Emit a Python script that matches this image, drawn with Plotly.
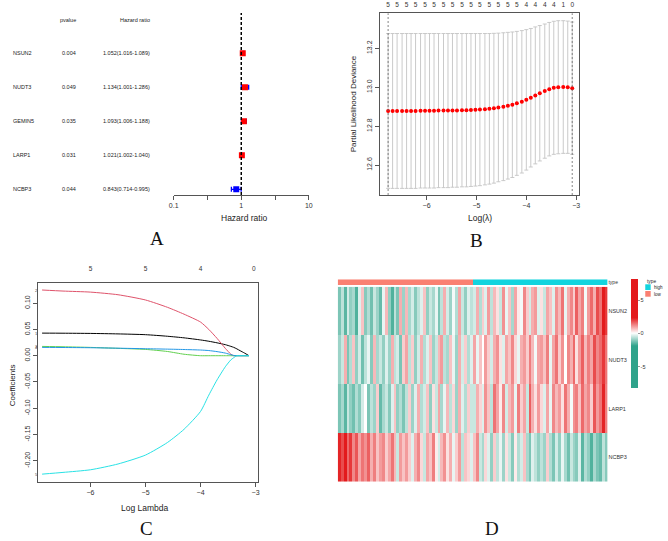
import plotly.graph_objects as go

W, H = 668, 541
def fx(p): return p / W
def fy(p): return 1 - p / H

FONT = "Liberation Sans, Arial, sans-serif"
SERIF = "Liberation Serif, Times New Roman, serif"

# ---------------- Panel A: forest plot ----------------
genes_a = ["NSUN2", "NUDT3", "GEMIN5", "LARP1", "NCBP3"]
pvalues = ["0.004", "0.049", "0.035", "0.031", "0.044"]
hr = [1.052, 1.134, 1.093, 1.021, 0.843]
hr_low = [1.016, 1.001, 1.006, 1.002, 0.714]
hr_high = [1.089, 1.286, 1.188, 1.040, 0.995]
row_pos = [5, 4, 3, 2, 1]
hr_ticks = [0.1, 0.316, 1, 3.16, 10]
hr_ticktext = ["0.1", "", "1", "", "10"]

# ---------------- Panel B: cross-validation ----------------
cv_loglam = [-6.77, -6.68, -6.59, -6.49, -6.40, -6.31, -6.22, -6.12, -6.03, -5.94,
             -5.85, -5.76, -5.66, -5.57, -5.48, -5.39, -5.29, -5.20, -5.11, -5.02,
             -4.93, -4.83, -4.74, -4.65, -4.56, -4.46, -4.37, -4.28, -4.19, -4.09,
             -4.00, -3.91, -3.82, -3.73, -3.63, -3.54, -3.45, -3.36, -3.26, -3.17, -3.08]
cv_mean = [12.878, 12.878, 12.878, 12.878, 12.878, 12.878, 12.878, 12.879, 12.879, 12.879,
           12.879, 12.880, 12.880, 12.880, 12.881, 12.881, 12.882, 12.882, 12.883, 12.884,
           12.885, 12.887, 12.889, 12.892, 12.896, 12.900, 12.905, 12.910, 12.917, 12.925,
           12.935, 12.946, 12.958, 12.969, 12.980, 12.990, 12.997, 13.000, 13.001, 13.000, 12.995]
cv_sd = [0.398, 0.398, 0.398, 0.398, 0.398, 0.398, 0.398, 0.397, 0.397, 0.397,
         0.397, 0.396, 0.396, 0.396, 0.395, 0.395, 0.394, 0.394, 0.393, 0.392,
         0.391, 0.389, 0.387, 0.385, 0.382, 0.380, 0.377, 0.374, 0.370, 0.366,
         0.361, 0.356, 0.352, 0.348, 0.345, 0.343, 0.342, 0.342, 0.341, 0.340, 0.340]
cv_nz = [5, 5, 5, 5, 5, 5, 5, 5, 5, 5, 5, 5, 5, 5, 5, 5, 5, 5, 5, 5,
         5, 5, 5, 5, 5, 5, 5, 5, 5, 4, 4, 4, 4, 4, 4, 4, 4, 2, 1, 1, 0]
lambda_min = -6.77
lambda_1se = -3.08

# ---------------- Panel C: coefficient paths ----------------
path_loglam = [-6.88, -6.50, -6.00, -5.50, -5.00, -4.60, -4.30, -4.00, -3.85,
               -3.70, -3.55, -3.45, -3.40, -3.34, -3.28, -3.20, -3.12]
coef_1 = [0.0430, 0.0428, 0.0424, 0.0415, 0.0400, 0.0370, 0.0340, 0.0300, 0.0275,
          0.0245, 0.0210, 0.0178, 0.0160, 0.0130, 0.0095, 0.0050, 0.0000]
coef_2 = [0.125, 0.123, 0.121, 0.116, 0.106, 0.092, 0.079, 0.064, 0.050,
          0.033, 0.014, 0.003, 0.000, 0.000, 0.000, 0.000, 0.000]
coef_3 = [0.0177, 0.0170, 0.0158, 0.0140, 0.0120, 0.0080, 0.0028, 0.0000, 0.0000,
          0.0000, 0.0000, 0.0000, 0.0000, 0.0000, 0.0000, 0.0000, 0.0000]
coef_4 = [0.0158, 0.0156, 0.0152, 0.0143, 0.0133, 0.0125, 0.0118, 0.0108, 0.0098,
          0.0078, 0.0050, 0.0020, 0.0006, 0.0000, 0.0000, 0.0000, 0.0000]
coef_5 = [-0.2253, -0.2220, -0.2170, -0.2060, -0.1890, -0.1650, -0.1400, -0.1060, -0.0750,
          -0.0460, -0.0210, -0.0080, -0.0040, 0.0000, 0.0000, 0.0000, 0.0000]
coef_labels = ["1", "2", "3", "4", "5"]
coef_colors = ["#000000", "#DF536B", "#61D04F", "#2297E6", "#28E2E5"]
df_ticks = [-6, -5, -4, -3.03]
df_labels = ["5", "5", "4", "0"]

# ---------------- Panel D: heatmap ----------------
heat_genes = ["NSUN2", "NUDT3", "LARP1", "NCBP3"]
sample_type = ["low"] * 46 + ["high"] * 46
expr_nsun2 = [-1.2, -0.6, -1.5, -0.4, -1.0, -0.8, -1.6, -0.3, 0.6, -1.1, -0.7, -1.3, -0.5, -0.9, -1.4, -0.2, 0.7, -1.0, -1.6, -0.6, -1.2, 0.8, -0.9,
              0.7, -0.8, -0.4, -1.1, -0.6, -0.3, 0.6, -1.0, -0.5, -0.8, -0.2, -1.2, -0.6, 0.8, -0.4, -0.9, -0.1, -0.7, 0.9, -0.5, -1.0, -0.3, -0.6,
              -0.4, 0.8, -0.7, 0.5, -0.3, 1.0, -0.6, 0.7, 0.3, -0.5, 1.1, -0.2, 0.6, -0.8, 0.9, 0.2, -0.1, 1.2, 0.5, -0.4, 0.8, 1.0, -0.3,
              0.3, -0.5, 0.9, 0.6, -0.3, 1.1, 0.7, 1.4, -0.2, 0.8, 1.2, 0.5, 1.6, 0.9, 1.3, -0.1, 1.0, 1.5, 0.8, 1.8, 1.4, 2.5, 2.0]
expr_nudt3 = [-0.9, -0.5, 0.8, -1.2, -0.7, 0.6, -1.0, -0.4, -1.3, -0.6, -0.2, -1.1, 0.7, -0.8, -0.5, -1.0, -0.3, -0.9, 0.8, -0.6, -0.4, -1.2, 0.5,
              0.9, -0.6, 0.5, -1.0, -0.4, 0.8, -0.7, -0.3, 0.6, -0.9, -0.5, 0.7, 1.0, -0.6, -0.8, 0.6, -0.2, -0.9, 0.8, -0.4, 0.5, -0.7, -0.3,
              0.9, -0.2, 0.6, 0.0, 1.0, 0.5, -0.4, 0.8, 1.1, 0.3, -0.3, 0.9, 0.6, 1.2, 0.4, -0.2, 0.8, 1.0, 0.5, 1.3, 0.7, -0.1, 0.9,
              1.0, 0.6, 1.3, -0.2, 0.9, 1.4, 0.5, 1.1, 0.0, 1.2, 0.8, 1.5, 0.3, 1.0, 1.6, 0.7, 1.3, 0.9, 1.8, 1.2, 1.5, 2.0, 1.4]
expr_larp1 = [-1.2, -0.8, -1.5, -0.5, -1.0, -1.3, -0.7, -1.1, -0.4, 0.0, -1.2, -0.6, -0.9, 0.5, -1.4, -0.8, -0.5, -1.1, -0.3, 0.6, -1.0, -0.7, -1.2,
              -0.6, 0.5, -0.9, -0.3, 0.8, -0.7, -0.4, 0.6, -1.0, 0.3, -0.5, 0.9, -0.8, -0.2, 0.7, -0.6, 0.4, -0.9, 0.8, -0.3, -0.7, 0.5, -0.5,
              -0.5, 0.8, 0.4, -0.3, 1.1, 0.6, -0.6, 1.4, 0.9, 0.2, 1.2, -0.4, 0.7, 1.0, -0.2, 1.3, 0.5, 0.9, -0.5, 1.6, 0.8, 0.3, 1.0,
              0.4, -0.3, 0.9, -0.2, 1.2, 0.7, 1.0, 0.3, 1.4, 0.8, -0.1, 1.1, 1.3, 0.6, 1.5, 0.9, 1.2, 0.5, 1.7, 1.0, 1.4, 2.2, 1.3]
expr_ncbp3 = [2.2, 1.8, 2.5, 1.5, 2.0, 1.2, 1.7, 0.9, 1.4, 1.1, 1.6, 0.8, 1.3, 0.6, 1.0, 1.2, 0.5, 0.9, 1.4, 0.7, -0.5, 1.0, 0.6,
              1.0, 0.5, -0.3, 0.8, 1.2, 0.4, -0.5, 0.9, 0.6, 1.3, 0.2, -0.4, 0.7, 1.1, 0.3, 0.8, -0.2, 0.5, 1.0, -0.6, 0.6, 0.4, -0.3,
              0.6, 1.2, -0.5, -0.8, 0.4, -0.3, -1.0, 0.5, -0.6, -0.2, -0.9, 0.3, -0.5, -1.1, 0.2, -0.7, -0.4, 0.6, -0.8, -1.2, -0.3, -0.6, -1.0,
              -0.6, -0.9, 0.5, -0.7, -1.2, -0.4, -1.0, -0.2, -0.8, -1.3, -0.5, -0.9, -1.1, -0.3, -1.5, -0.7, -1.0, -1.6, -0.8, -1.2, -1.4, -0.6, -1.1]
color_ticks = [-5, 0, 5]

TEAL = "#2FA38B"
RED = "#E31A1C"
LOW_C = "#FA8072"
HIGH_C = "#12D4DE"
AXC = "#555555"

fig = go.Figure()

# ---- A traces ----
fig.add_trace(go.Scatter(
    x=hr, y=row_pos, mode="markers",
    marker=dict(symbol="square", size=6, color=["red" if h > 1 else "blue" for h in hr], line=dict(width=0)),
    error_x=dict(type="data", symmetric=False,
                 array=[u - h for u, h in zip(hr_high, hr)],
                 arrayminus=[h - l for h, l in zip(hr, hr_low)],
                 color="blue", thickness=1.3, width=2.5),
    xaxis="x", yaxis="y", showlegend=False, hoverinfo="skip"))

# ---- B traces ----
fig.add_trace(go.Scatter(
    x=cv_loglam, y=cv_mean, mode="markers",
    marker=dict(color="red", size=4),
    error_y=dict(type="data", array=cv_sd, color="#C4C4C4", thickness=0.9, width=2),
    xaxis="x2", yaxis="y2", showlegend=False, hoverinfo="skip"))
fig.add_trace(go.Scatter(
    x=cv_loglam, y=cv_mean, mode="markers", marker=dict(size=1, opacity=0),
    xaxis="x3", yaxis="y2", showlegend=False, hoverinfo="skip"))

# ---- C traces ----
for ys, col in zip([coef_1, coef_2, coef_3, coef_4, coef_5], coef_colors):
    fig.add_trace(go.Scatter(
        x=path_loglam, y=ys, mode="lines",
        line=dict(color=col, width=1, shape="spline", smoothing=0.6),
        xaxis="x4", yaxis="y4", showlegend=False, hoverinfo="skip"))
fig.add_trace(go.Scatter(
    x=path_loglam, y=coef_1, mode="markers", marker=dict(size=1, opacity=0),
    xaxis="x5", yaxis="y4", showlegend=False, hoverinfo="skip"))

# ---- D traces ----
zmin, zmax = -8.2, 8.1
def pos(v): return (v - zmin) / (zmax - zmin)
colorscale = [[0, TEAL], [pos(-1.9), TEAL], [pos(0), "#FFFFFF"], [pos(2.3), RED], [1, RED]]
ncol = len(sample_type)
fig.add_trace(go.Heatmap(
    z=[expr_nsun2, expr_nudt3, expr_larp1, expr_ncbp3],
    x=list(range(ncol)), y=list(range(len(heat_genes))),
    zmin=zmin, zmax=zmax, colorscale=colorscale,
    colorbar=dict(x=fx(635), xanchor="left", y=fy(279.3), yanchor="top",
                  len=109 / H, lenmode="fraction", thickness=7, thicknessmode="pixels",
                  outlinewidth=0, tickvals=color_ticks, ticktext=[str(t) for t in color_ticks],
                  tickfont=dict(size=5.5, family=FONT, color="#333"),
                  ticks="outside", ticklen=2, tickcolor="#999", xpad=0, ypad=0),
    xaxis="x6", yaxis="y6", hoverinfo="skip"))
fig.add_trace(go.Heatmap(
    z=[[1 if t == "high" else 0 for t in sample_type]],
    x=list(range(ncol)), y=[0],
    zmin=0, zmax=1, colorscale=[[0, LOW_C], [0.5, LOW_C], [0.5, HIGH_C], [1, HIGH_C]],
    showscale=False, xaxis="x7", yaxis="y7", hoverinfo="skip"))

# ---- Layout ----
tickfont = dict(size=7, family=FONT, color="#333")
common_box = dict(showline=True, mirror=True, linecolor=AXC, linewidth=1, ticks="outside",
                  ticklen=4, tickcolor=AXC, showgrid=False, zeroline=False, tickfont=tickfont)

layout = dict(
    width=W, height=H, margin=dict(l=0, r=0, t=0, b=0),
    paper_bgcolor="white", plot_bgcolor="white",
    font=dict(family=FONT, color="#222"),
    showlegend=False,
    # A
    xaxis=dict(type="log", range=[-1, 1], domain=[fx(171), fx(308)], anchor="y",
               tickvals=hr_ticks, ticktext=hr_ticktext, ticks="outside", ticklen=4,
               tickcolor=AXC, showline=True, linecolor=AXC, showgrid=False, zeroline=False,
               tickfont=tickfont),
    yaxis=dict(domain=[fy(195), fy(13)], range=[0.832, 6.185], visible=False, anchor="x"),
    # B
    xaxis2=dict(domain=[fx(380), fx(581.7)], range=[-6.935, -2.947], anchor="y2",
                tickvals=[-6, -5, -4, -3], **common_box),
    yaxis2=dict(domain=[fy(195), fy(13.3)], range=[12.446, 13.380], anchor="x2",
                tickvals=[12.6, 12.8, 13.0, 13.2], ticktext=["12.6", "12.8", "13.0", "13.2"],
                tickangle=-90, **common_box),
    xaxis3=dict(overlaying="x2", side="top", anchor="y2", range=[-6.935, -2.947],
                tickvals=cv_loglam[::2], ticktext=[str(n) for n in cv_nz[::2]],
                ticks="", showline=False, showgrid=False, zeroline=False,
                tickfont=dict(size=6.5, family=FONT, color="#333"), ticklabelstandoff=4),
    # C
    xaxis4=dict(domain=[fx(33.3), fx(256)], range=[-6.957, -2.964], anchor="y4",
                tickvals=[-6, -5, -4, -3], **common_box),
    yaxis4=dict(domain=[fy(481.7), fy(282.7)], range=[-0.2397, 0.1389], anchor="x4",
                tickvals=[-0.20, -0.15, -0.10, -0.05, 0.0, 0.05, 0.10],
                ticktext=["-0.20", "-0.15", "-0.10", "-0.05", "0.00", "0.05", "0.10"],
                tickangle=-90, **common_box),
    xaxis5=dict(overlaying="x4", side="top", anchor="y4", range=[-6.957, -2.964],
                tickvals=df_ticks, ticktext=df_labels, ticks="", showline=False,
                showgrid=False, zeroline=False,
                tickfont=dict(size=6.5, family=FONT, color="#333"), ticklabelstandoff=9),
    # D
    xaxis6=dict(domain=[fx(337.3), fx(610.7)], range=[-0.5, ncol - 0.5], visible=False, anchor="y6"),
    yaxis6=dict(domain=[fy(481.7), fy(286.7)], range=[len(heat_genes) - 0.5, -0.5], anchor="x6",
                side="right", tickvals=list(range(len(heat_genes))), ticktext=heat_genes,
                ticks="", showline=False, showgrid=False, zeroline=False,
                tickfont=dict(size=5.5, family=FONT, color="#333")),
    xaxis7=dict(domain=[fx(337.3), fx(610.7)], range=[-0.5, ncol - 0.5], visible=False, anchor="y7"),
    yaxis7=dict(domain=[fy(285), fy(279.3)], range=[-0.5, 0.5], anchor="x7",
                side="right", tickvals=[0], ticktext=["type"], ticks="", showline=False,
                showgrid=False, zeroline=False,
                tickfont=dict(size=5, family=FONT, color="#333")),
)
fig.update_layout(**layout)

ann = []
def txt(x, y, s, size, xanchor="center", yanchor="middle", xref="paper", yref="paper",
        angle=0, family=FONT, color="#222"):
    ann.append(dict(x=x, y=y, text=s, xref=xref, yref=yref, showarrow=False,
                    xanchor=xanchor, yanchor=yanchor, textangle=angle,
                    font=dict(size=size, family=family, color=color)))

# A table
txt(fx(64), fy(20), "pvalue", 5.5)
txt(fx(149), fy(20), "Hazard ratio", 5.5, xanchor="right")
for g, p, h, l, u, r in zip(genes_a, pvalues, hr, hr_low, hr_high, row_pos):
    txt(fx(6), r, g, 5.5, xanchor="left", yref="y")
    txt(fx(64.5), r, p, 5.5, yref="y")
    txt(fx(149), r, f"{h:.3f}({l:.3f}-{u:.3f})", 5.5, xanchor="right", yref="y")
txt(fx(243), fy(218), "Hazard ratio", 8.5)

# B titles
txt(fx(481.7), fy(218), "Log(λ)", 8.5)
txt(fx(353), fy(104), "Partial Likelihood Deviance", 8, angle=-90)

# C titles and curve labels
txt(fx(142), fy(508.3), "Log Lambda", 8.5)
txt(fx(7.3), fy(385), "Coefficients", 8, angle=-90)
for lab, ys in zip(coef_labels, [coef_1, coef_2, coef_3, coef_4, coef_5]):
    txt(path_loglam[0] - 0.03, ys[0], lab, 4, xanchor="right", xref="x4", yref="y4", color="#444")

# D legend
txt(fx(649), fy(281.5), "type", 4.8, xanchor="left")
txt(fx(656), fy(287.3), "high", 4.5, xanchor="left")
txt(fx(656), fy(294), "low", 4.5, xanchor="left")

# Panel letters
txt(fx(154), fy(238), "A", 19, family=SERIF, color="#111")
txt(fx(478), fy(240), "B", 19, family=SERIF, color="#111")
txt(fx(143), fy(528), "C", 19, family=SERIF, color="#111")
txt(fx(494), fy(528), "D", 19, family=SERIF, color="#111")

shapes = [
    dict(type="line", xref="x", yref="y domain", x0=1, x1=1, y0=0, y1=1,
         line=dict(color="black", width=1.5, dash="3px,2px")),
    dict(type="line", xref="x2", yref="y2 domain", x0=lambda_min, x1=lambda_min, y0=0, y1=1,
         line=dict(color="#666", width=0.8, dash="2px,2px")),
    dict(type="line", xref="x2", yref="y2 domain", x0=lambda_1se, x1=lambda_1se, y0=0, y1=1,
         line=dict(color="#666", width=0.8, dash="2px,2px")),
    dict(type="rect", xref="paper", yref="paper", x0=fx(649), x1=fx(654.5), y0=fy(290), y1=fy(284.3),
         fillcolor=HIGH_C, line=dict(width=0)),
    dict(type="rect", xref="paper", yref="paper", x0=fx(649), x1=fx(654.5), y0=fy(296.7), y1=fy(291),
         fillcolor=LOW_C, line=dict(width=0)),
]
fig.update_layout(annotations=ann, shapes=shapes)
fig.write_html("out.html", config={"displayModeBar": False},
               post_script="document.body.style.margin='0';document.body.style.padding='0';")
